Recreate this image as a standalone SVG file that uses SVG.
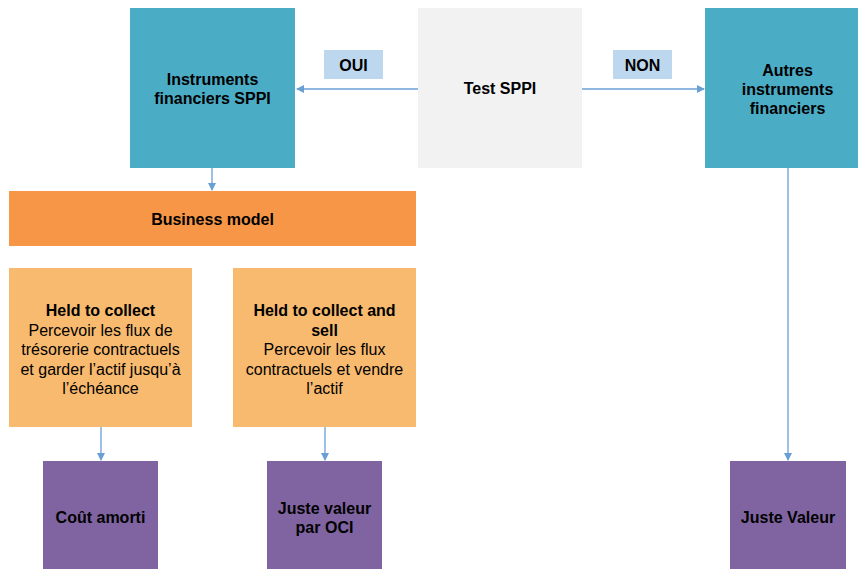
<svg xmlns="http://www.w3.org/2000/svg" width="858" height="569" viewBox="0 0 858 569">
<defs>
<style>
text{font-family:"Liberation Sans",Arial,sans-serif;font-size:16px;fill:#000;text-anchor:middle}
.b{font-weight:bold}
.teal{fill:#4BACC6}
.gray{fill:#F2F2F2}
.lbl{fill:#BDD7EE}
.orange{fill:#F79646}
.lorange{fill:#F8BA6E}
.purple{fill:#8064A2}
.conn{stroke:#6A9FD4;stroke-width:1.3;fill:none}
</style>
<marker id="ah" markerWidth="8" markerHeight="8" refX="7" refY="4" orient="auto" markerUnits="userSpaceOnUse">
<path d="M0,0 L8,4 L0,8 Z" fill="#6A9FD4"/>
</marker>
</defs>
<rect width="858" height="569" fill="#fff"/>
<g id="connectors">
<line class="conn" x1="418" y1="89" x2="297" y2="89" marker-end="url(#ah)"/>
<line class="conn" x1="582" y1="89" x2="704" y2="89" marker-end="url(#ah)"/>
<line class="conn" x1="212" y1="168" x2="212" y2="190" marker-end="url(#ah)"/>
<line class="conn" x1="788" y1="168" x2="788" y2="460" marker-end="url(#ah)"/>
<line class="conn" x1="101" y1="427" x2="101" y2="460" marker-end="url(#ah)"/>
<line class="conn" x1="325" y1="427" x2="325" y2="460" marker-end="url(#ah)"/>
</g>
<g id="sppi">
<rect class="teal" x="130" y="8" width="165" height="160"/>
<text class="b" x="212.5" y="85">Instruments</text>
<text class="b" x="212.5" y="104">financiers SPPI</text>
</g>
<g id="test">
<rect class="gray" x="418" y="8" width="164" height="160"/>
<text class="b" x="500" y="94">Test SPPI</text>
</g>
<g id="oui">
<rect class="lbl" x="324" y="50" width="59" height="29"/>
<text class="b" x="353.5" y="71">OUI</text>
</g>
<g id="non">
<rect class="lbl" x="613" y="50" width="59" height="29"/>
<text class="b" x="642.5" y="71">NON</text>
</g>
<g id="autres">
<rect class="teal" x="705" y="8" width="165" height="160"/>
<text class="b" x="787.5" y="76">Autres</text>
<text class="b" x="787.5" y="95">instruments</text>
<text class="b" x="787.5" y="114">financiers</text>
</g>
<g id="business">
<rect class="orange" x="9" y="191" width="407" height="55"/>
<text class="b" x="212.5" y="225">Business model</text>
</g>
<g id="htc">
<rect class="lorange" x="9" y="268" width="183" height="159"/>
<text class="b" x="100.5" y="316">Held to collect</text>
<text x="100.5" y="336">Percevoir les flux de</text>
<text x="100.5" y="355">trésorerie contractuels</text>
<text x="100.5" y="375">et garder l’actif jusqu’à</text>
<text x="100.5" y="394">l’échéance</text>
</g>
<g id="htcs">
<rect class="lorange" x="233" y="268" width="183" height="159"/>
<text class="b" x="324.5" y="316">Held to collect and</text>
<text class="b" x="324.5" y="336">sell</text>
<text x="324.5" y="355">Percevoir les flux</text>
<text x="324.5" y="375">contractuels et vendre</text>
<text x="324.5" y="394">l’actif</text>
</g>
<g id="cout">
<rect class="purple" x="43" y="461" width="115" height="110"/>
<text class="b" x="100.5" y="523">Coût amorti</text>
</g>
<g id="jvoci">
<rect class="purple" x="267" y="461" width="115" height="110"/>
<text class="b" x="324.5" y="514">Juste valeur</text>
<text class="b" x="324.5" y="533">par OCI</text>
</g>
<g id="jv">
<rect class="purple" x="730" y="461" width="116" height="110"/>
<text class="b" x="788" y="523">Juste Valeur</text>
</g>
</svg>
